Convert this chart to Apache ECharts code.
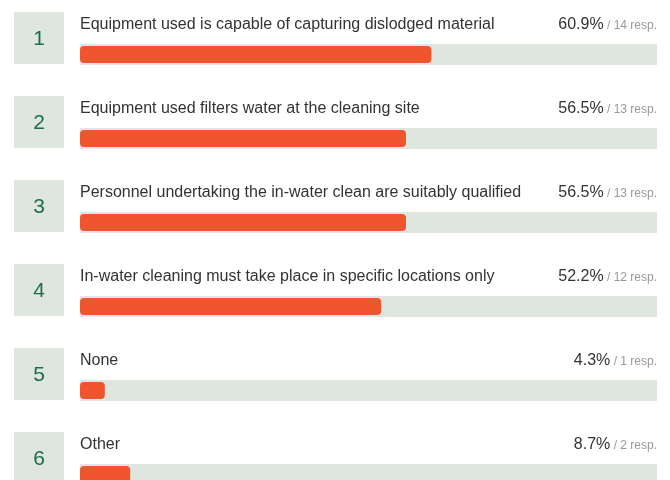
<!DOCTYPE html>
<html>
<head>
<meta charset="utf-8">
<script src="https://cdn.jsdelivr.net/npm/echarts@6/dist/echarts.min.js"></script>
<style>
  html, body { margin: 0; padding: 0; background: #fff; }
  #chart { width: 670px; height: 480px; }
</style>
</head>
<body>
<div id="chart"></div>
<script>
var rowNumbers = ['1', '2', '3', '4', '5', '6'];
var categories = [
  'Equipment used is capable of capturing dislodged material',
  'Equipment used filters water at the cleaning site',
  'Personnel undertaking the in-water clean are suitably qualified',
  'In-water cleaning must take place in specific locations only',
  'None',
  'Other'
];
var shares = [60.9, 56.5, 56.5, 52.2, 4.3, 8.7];
var counts = [14, 13, 13, 12, 1, 2];
var trackValues = categories.map(function () { return 100; });

var font = 'Arial, "Liberation Sans", sans-serif';
var chart = echarts.init(document.getElementById('chart'));

chart.setOption({
  backgroundColor: '#fff',
  animation: false,
  // 6 rows of 84px, last one runs past the bottom edge
  grid: { left: 80, right: 13, top: 12.5, height: 504, outerBoundsMode: 'none' },
  xAxis: { type: 'value', min: 0, max: 100, show: false },
  yAxis: [
    { type: 'category', data: categories, inverse: true, show: false },
    { type: 'category', data: categories, inverse: true, show: false }
  ],
  series: [
    {
      // grey track
      type: 'bar',
      yAxisIndex: 0,
      data: trackValues,
      barWidth: 21,
      silent: true,
      itemStyle: { color: '#dfe6e0' },
      z: 1
    },
    {
      type: 'bar',
      yAxisIndex: 1,
      data: shares,
      barWidth: 17,
      itemStyle: { color: '#f0562e', borderRadius: 4 },
      z: 2
    },
    {
      type: 'custom',
      yAxisIndex: 0,
      data: categories.map(function (c, i) { return [0, i]; }),
      z: 3,
      renderItem: function (params, api) {
        var i = api.value(1);
        var start = api.coord([0, i]);
        var end = api.coord([100, i]);
        var c = start[1];
        return {
          type: 'group',
          children: [
            {
              type: 'rect',
              shape: { x: 14, y: c - 42.5, width: 50, height: 52 },
              style: { fill: '#dfe6e0' }
            },
            {
              type: 'text',
              style: {
                x: 39, y: c - 15.5, text: rowNumbers[i],
                align: 'center', verticalAlign: 'middle',
                font: '21px ' + font, fill: '#1d6d48'
              }
            },
            {
              type: 'text',
              style: {
                x: start[0], y: c - 30, text: categories[i],
                align: 'left', verticalAlign: 'middle',
                font: '16px ' + font, fill: '#333'
              }
            },
            {
              type: 'text',
              style: {
                x: end[0], y: c - 30,
                text: '{p|' + shares[i] + '%} {r|/ ' + counts[i] + ' resp.}',
                align: 'right', verticalAlign: 'middle',
                rich: {
                  p: { fontFamily: font, fontSize: 16, fill: '#333' },
                  r: { fontFamily: font, fontSize: 12, fill: '#999', padding: [3, 0, 0, 0] }
                }
              }
            }
          ]
        };
      }
    }
  ]
});
</script>
</body>
</html>
